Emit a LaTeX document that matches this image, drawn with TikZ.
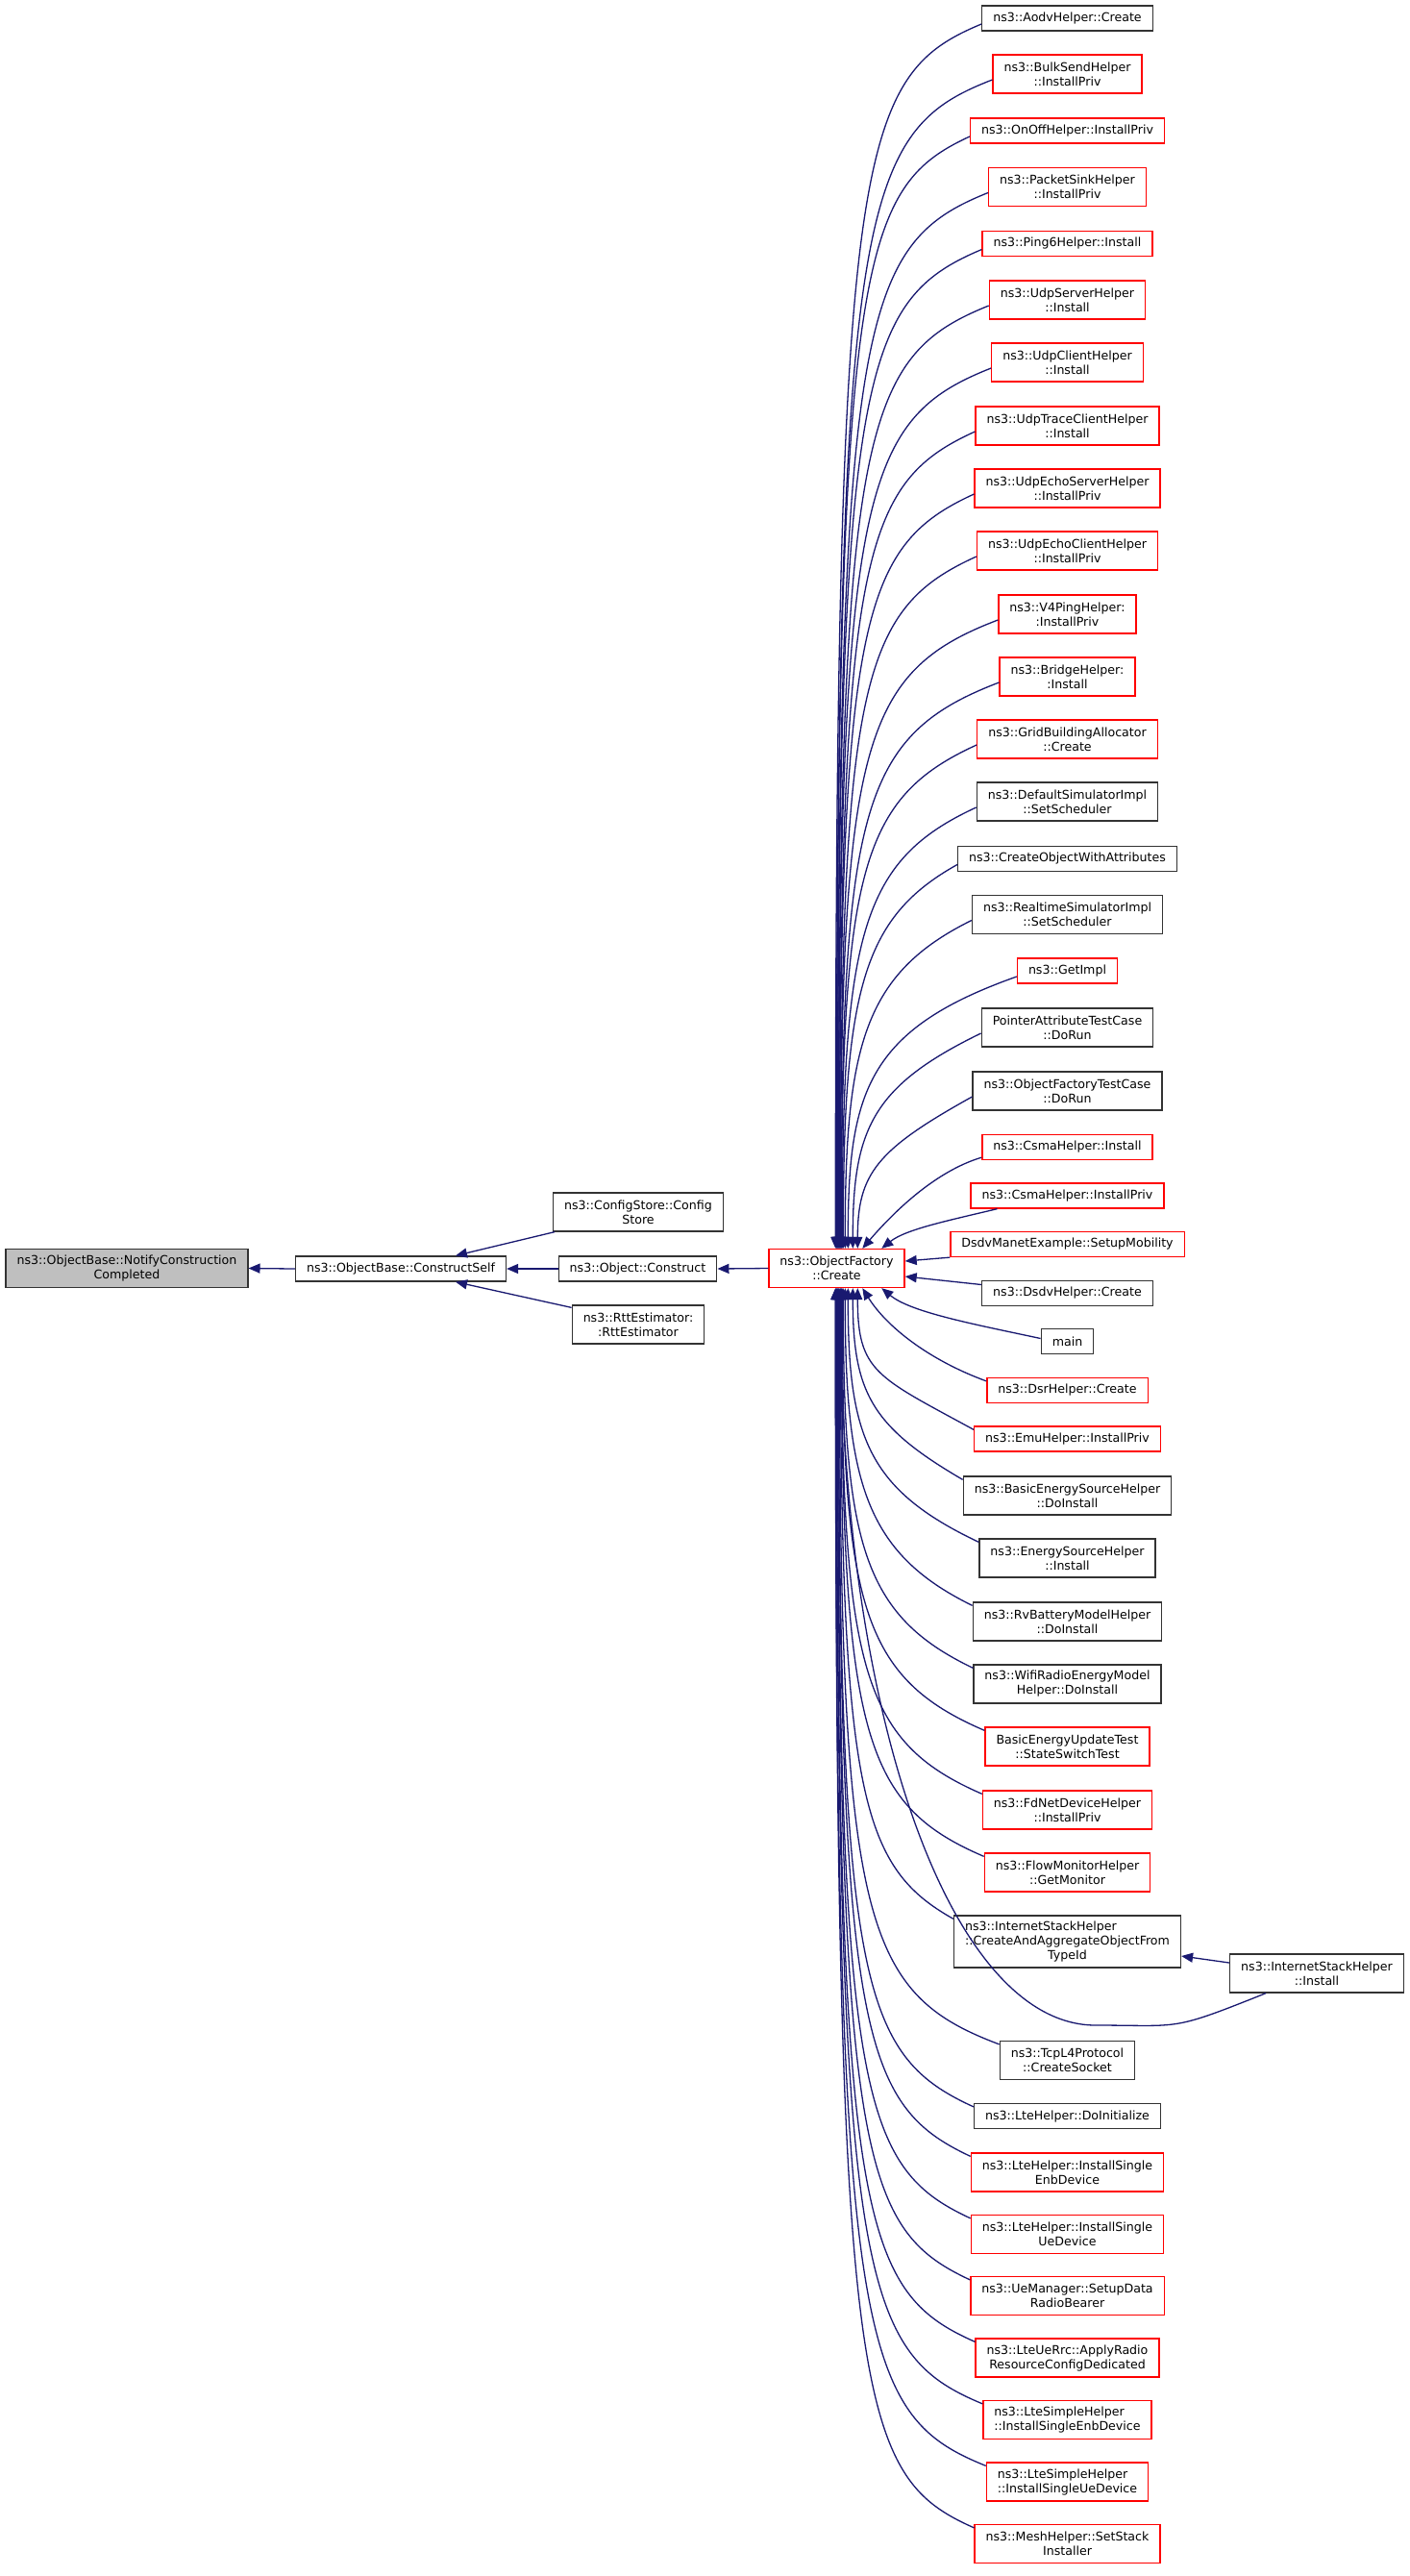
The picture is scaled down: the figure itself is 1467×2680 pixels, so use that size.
\documentclass[tikz,border=0pt]{standalone}
\usepackage{fontspec}
\setmainfont{DejaVu Sans}
\usetikzlibrary{arrows.meta}
\definecolor{midnight}{HTML}{191970}
\begin{document}
\begin{tikzpicture}[x=1pt,y=1pt,
  fnbox/.style={draw=black!80,line width=1.3pt,fill=white,inner xsep=11.5pt,inner ysep=0pt,
    minimum height=26pt,align=center,font=\fontsize{12.6}{15}\selectfont},
  fnred/.style={fnbox,draw=red},
  fnroot/.style={fnbox,fill=black!25},
  twoline/.style={minimum height=40pt},
  threeline/.style={minimum height=54pt},
  callarrow/.style={draw=midnight,line width=1.3pt,-{Triangle[length=12pt,width=10pt]}}]
\useasboundingbox (0,0) rectangle (1467,-2680);

% callers on the left
\node (notify) [fnroot,twoline] at (132,-1319.5) {ns3::ObjectBase::NotifyConstruction\\Completed};
\node (constructself) [fnbox] at (417,-1320) {ns3::ObjectBase::ConstructSelf};
\node (configstore) [fnbox,twoline] at (664,-1261) {ns3::ConfigStore::Config\\Store};
\node (objconstruct) [fnbox] at (663.5,-1320) {ns3::Object::Construct};
\node (rtt) [fnbox,twoline] at (664,-1378) {ns3::RttEstimator:\\:RttEstimator};
\node (of) [fnred,twoline] at (870.5,-1319.5) {ns3::ObjectFactory\\::Create};

% callers of ObjectFactory::Create
\node (aodv) [fnbox] at (1110.5,-19) {ns3::AodvHelper::Create};
\node (bulksend) [fnred,twoline] at (1110.5,-77) {ns3::BulkSendHelper\\::InstallPriv};
\node (onoff) [fnred] at (1110.5,-136) {ns3::OnOffHelper::InstallPriv};
\node (packetsink) [fnred,twoline] at (1110.5,-194.5) {ns3::PacketSinkHelper\\::InstallPriv};
\node (ping6) [fnred] at (1110.5,-253.5) {ns3::Ping6Helper::Install};
\node (udpserver) [fnred,twoline] at (1110.5,-312) {ns3::UdpServerHelper\\::Install};
\node (udpclient) [fnred,twoline] at (1110.5,-377) {ns3::UdpClientHelper\\::Install};
\node (udptrace) [fnred,twoline] at (1110.5,-443) {ns3::UdpTraceClientHelper\\::Install};
\node (udpechoserver) [fnred,twoline] at (1110.5,-508) {ns3::UdpEchoServerHelper\\::InstallPriv};
\node (udpechoclient) [fnred,twoline] at (1110.5,-573) {ns3::UdpEchoClientHelper\\::InstallPriv};
\node (v4ping) [fnred,twoline] at (1110.5,-639) {ns3::V4PingHelper:\\:InstallPriv};
\node (bridge) [fnred,twoline] at (1110.5,-704) {ns3::BridgeHelper:\\:Install};
\node (gridbuilding) [fnred,twoline] at (1110.5,-769) {ns3::GridBuildingAllocator\\::Create};
\node (defaultsim) [fnbox,twoline] at (1110.5,-834) {ns3::DefaultSimulatorImpl\\::SetScheduler};
\node (createobj) [fnbox] at (1110.5,-893.5) {ns3::CreateObjectWithAttributes};
\node (realtimesim) [fnbox,twoline] at (1110.5,-951.5) {ns3::RealtimeSimulatorImpl\\::SetScheduler};
\node (getimpl) [fnred] at (1110.5,-1010) {ns3::GetImpl};
\node (pointerattr) [fnbox,twoline] at (1110.5,-1069) {PointerAttributeTestCase\\::DoRun};
\node (oftestcase) [fnbox,twoline] at (1110.5,-1135) {ns3::ObjectFactoryTestCase\\::DoRun};
\node (csmainstall) [fnred] at (1110.5,-1193.5) {ns3::CsmaHelper::Install};
\node (csmapriv) [fnred] at (1110.5,-1244) {ns3::CsmaHelper::InstallPriv};
\node (dsdvmanet) [fnred] at (1110.5,-1294.5) {DsdvManetExample::SetupMobility};
\node (dsdvhelper) [fnbox] at (1110.5,-1345.5) {ns3::DsdvHelper::Create};
\node (main) [fnbox] at (1110.5,-1395.5) {main};
\node (dsrhelper) [fnred] at (1110.5,-1446.5) {ns3::DsrHelper::Create};
\node (emuhelper) [fnred] at (1110.5,-1497) {ns3::EmuHelper::InstallPriv};
\node (basicenergy) [fnbox,twoline] at (1110.5,-1556) {ns3::BasicEnergySourceHelper\\::DoInstall};
\node (energysource) [fnbox,twoline] at (1110.5,-1621) {ns3::EnergySourceHelper\\::Install};
\node (rvbattery) [fnbox,twoline] at (1110.5,-1687) {ns3::RvBatteryModelHelper\\::DoInstall};
\node (wifiradio) [fnbox,twoline] at (1110.5,-1752) {ns3::WifiRadioEnergyModel\\Helper::DoInstall};
\node (basicupdate) [fnred,twoline] at (1110.5,-1817) {BasicEnergyUpdateTest\\::StateSwitchTest};
\node (fdnet) [fnred,twoline] at (1110.5,-1883) {ns3::FdNetDeviceHelper\\::InstallPriv};
\node (flowmon) [fnred,twoline] at (1110.5,-1948) {ns3::FlowMonitorHelper\\::GetMonitor};
\node (aggregate) [fnbox,threeline] at (1110.5,-2020) {
\begin{tabular}{@{}l@{}}
  ns3::InternetStackHelper \\
  ::CreateAndAggregateObjectFrom \\
  \multicolumn{1}{@{}c@{}}{TypeId}
\end{tabular}};
\node (install) [fnbox,twoline] at (1370,-2053) {ns3::InternetStackHelper\\::Install};
\node (tcpl4) [fnbox,twoline] at (1110.5,-2143.5) {ns3::TcpL4Protocol\\::CreateSocket};
\node (ltedoinit) [fnbox] at (1110.5,-2201.5) {ns3::LteHelper::DoInitialize};
\node (lteenb) [fnred,twoline] at (1110.5,-2260) {ns3::LteHelper::InstallSingle\\EnbDevice};
\node (lteue) [fnred,twoline] at (1110.5,-2324.5) {ns3::LteHelper::InstallSingle\\UeDevice};
\node (uemanager) [fnred,twoline] at (1110.5,-2388.5) {ns3::UeManager::SetupData\\RadioBearer};
\node (lterrc) [fnred,twoline] at (1110.5,-2453) {ns3::LteUeRrc::ApplyRadio\\ResourceConfigDedicated};
\node (ltesenb) [fnred,twoline,align=left] at (1110.5,-2517.5) {ns3::LteSimpleHelper\\::InstallSingleEnbDevice};
\node (ltesue) [fnred,twoline,align=left] at (1110.5,-2582) {ns3::LteSimpleHelper\\::InstallSingleUeDevice};
\node (mesh) [fnred,twoline] at (1110.5,-2646.5) {ns3::MeshHelper::SetStack\\Installer};

% left chain
\draw [callarrow] (of.west) -- (objconstruct.east);
\draw [callarrow] (objconstruct.west) -- (constructself.east);
\draw [callarrow] ([xshift=2pt]configstore.south west) -- ([xshift=57pt]constructself.north);
\draw [callarrow] ([yshift=-3pt]rtt.north west) -- ([xshift=57pt]constructself.south);
\draw [callarrow] (constructself.west) -- (notify.east);

% edges from above
\foreach \fn/\tx/\cy in {aodv/70/130, bulksend/71/130, onoff/71/130, packetsink/72/130,
    ping6/72/130, udpserver/73/130, udpclient/73/130, udptrace/74/130, udpechoserver/74/130,
    udpechoclient/75/130, v4ping/75/130, bridge/76/130, gridbuilding/76/130, defaultsim/77/130,
    createobj/78/130, realtimesim/80/130, getimpl/83/120, pointerattr/88/100, oftestcase/93/80} {
  \coordinate (s) at ([yshift=-6pt]\fn.west);
  \coordinate (t) at ([xshift=\tx pt]of.north west);
  \draw [callarrow] (s) .. controls ([xshift=20pt,yshift=-55pt]t |- s) and ([yshift=-\cy pt]t |- s) .. (t);
}
\draw [callarrow] ([yshift=3pt]csmainstall.south west) .. controls +(-50,-15) and +(30,35) .. ([xshift=98pt]of.north west);
\draw [callarrow] ([xshift=28pt]csmapriv.south west) .. controls +(-50,-12) and +(25,20) .. ([xshift=118pt]of.north west);

% edges from the right
\draw [callarrow] (dsdvmanet.south west) -- ([yshift=7.5pt]of.east);
\draw [callarrow] ([yshift=9pt]dsdvhelper.west) -- ([yshift=-8.5pt]of.east);

% edges from below
\draw [callarrow] ([yshift=3pt]main.west) .. controls +(-70,15) and +(30,-25) .. ([xshift=118pt]of.south west);
\draw [callarrow] ([yshift=-4pt]dsrhelper.north west) .. controls +(-60,22) and +(25,-40) .. ([xshift=98pt]of.south west);
\foreach \fn/\tx/\cy in {emuhelper/93/60, basicenergy/88/90, energysource/83/110, rvbattery/80/130,
    wifiradio/78/130, basicupdate/77/130, fdnet/76/130, flowmon/76/130, aggregate/75/130,
    tcpl4/74/130, ltedoinit/73/130, lteenb/73/130, lteue/72/130, uemanager/72/130,
    lterrc/71/130, ltesenb/71/130, ltesue/70/130, mesh/70/130} {
  \coordinate (s) at ([yshift=-4pt]\fn.north west);
  \coordinate (t) at ([xshift=\tx pt]of.south west);
  \draw [callarrow] (s) .. controls ([xshift=20pt,yshift=55pt]t |- s) and ([yshift=\cy pt]t |- s) .. (t);
}

% InternetStackHelper::Install
\coordinate (dip) at (1140,-2107);
\draw [callarrow] ([yshift=11pt]install.west) -- ([yshift=-15pt]aggregate.east);
\draw [callarrow] ([xshift=-53pt]install.south) .. controls +(-100,-40) and +(90,0) .. (dip)
  .. controls +(-150,0) and +(0,-450) .. ([xshift=75pt]of.south west);
\end{tikzpicture}
\end{document}
